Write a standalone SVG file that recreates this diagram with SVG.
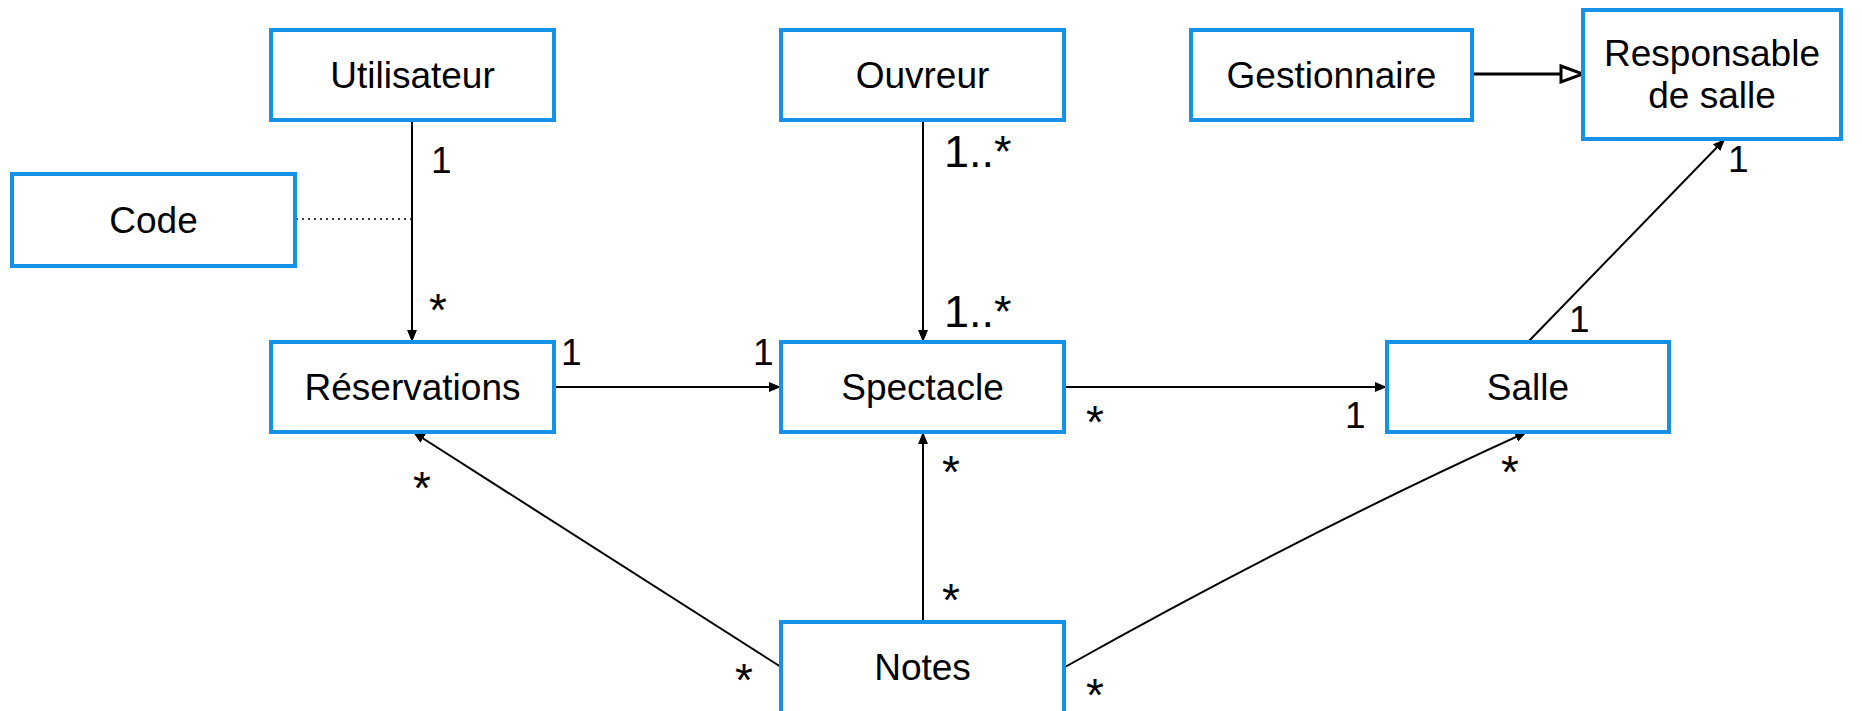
<svg xmlns="http://www.w3.org/2000/svg" width="1862" height="711" viewBox="0 0 1862 711">
<style>
.box{fill:#fff;stroke:#1592e8;stroke-width:4}
.t{font-family:"Liberation Sans",Arial,sans-serif;font-size:37px;fill:#000;text-anchor:middle}
.m{font-family:"Liberation Sans",Arial,sans-serif;font-size:37px;fill:#000}
.s{font-family:"Liberation Sans",Arial,sans-serif;font-size:46px;fill:#000}
.big{font-size:45px}
.c{fill:none;stroke:#000;stroke-width:2}
</style>
<defs>
<marker id="arr" viewBox="0 0 12 10" refX="12" refY="5" markerWidth="12" markerHeight="10" orient="auto" markerUnits="userSpaceOnUse">
<path d="M0,0 L12,5 L0,10 z" fill="#000"/>
</marker>
<marker id="gen" viewBox="0 0 26 20" refX="24" refY="10" markerWidth="26" markerHeight="20" orient="auto" markerUnits="userSpaceOnUse">
<path d="M2,2 L24,10 L2,18 z" fill="#fff" stroke="#000" stroke-width="3"/>
</marker>
</defs>
<rect width="1862" height="711" fill="#fff"/>
<g id="connectors">
<line class="c" x1="412" y1="120" x2="412" y2="342" marker-end="url(#arr)"/>
<line x1="296" y1="219" x2="412" y2="219" stroke="#000" stroke-width="1.5" stroke-dasharray="2,4"/>
<line class="c" x1="923" y1="120" x2="923" y2="342" marker-end="url(#arr)"/>
<line x1="1472" y1="74" x2="1583" y2="74" stroke="#000" stroke-width="3" marker-end="url(#gen)"/>
<line class="c" x1="555" y1="387" x2="781" y2="387" marker-end="url(#arr)"/>
<line class="c" x1="1065" y1="387" x2="1387" y2="387" marker-end="url(#arr)"/>
<line class="c" x1="1528" y1="342" x2="1725" y2="139" marker-end="url(#arr)"/>
<line class="c" x1="781" y1="667" x2="413" y2="432" marker-end="url(#arr)"/>
<line class="c" x1="923" y1="622" x2="923" y2="432" marker-end="url(#arr)"/>
<path class="c" d="M1065,667 Q1300,535 1527,432" marker-end="url(#arr)"/>
<text class="m" x="431" y="173">1</text>
<text class="s" x="429" y="326">*</text>
<text class="m big" x="944" y="167">1..*</text>
<text class="m big" x="944" y="327">1..*</text>
<text class="m" x="561" y="365">1</text>
<text class="m" x="753" y="365">1</text>
<text class="s" x="1086" y="438">*</text>
<text class="m" x="1345" y="428">1</text>
<text class="m" x="1569" y="332">1</text>
<text class="m" x="1728" y="172">1</text>
<text class="s" x="413" y="504">*</text>
<text class="s" x="735" y="696">*</text>
<text class="s" x="942" y="488">*</text>
<text class="s" x="942" y="616">*</text>
<text class="s" x="1501" y="488">*</text>
<text class="s" x="1086" y="711">*</text>
</g>
<g id="utilisateur"><rect class="box" x="271" y="30" width="283" height="90"/><text class="t" x="412.5" y="88">Utilisateur</text></g>
<g id="ouvreur"><rect class="box" x="781" y="30" width="283" height="90"/><text class="t" x="922.5" y="88">Ouvreur</text></g>
<g id="gestionnaire"><rect class="box" x="1191" y="30" width="281" height="90"/><text class="t" x="1331.5" y="88">Gestionnaire</text></g>
<g id="responsable"><rect class="box" x="1583" y="10" width="258" height="129"/><text class="t" x="1712" y="66">Responsable</text><text class="t" x="1712" y="108">de salle</text></g>
<g id="code"><rect class="box" x="12" y="174" width="283" height="92"/><text class="t" x="153.5" y="233">Code</text></g>
<g id="reservations"><rect class="box" x="271" y="342" width="283" height="90"/><text class="t" x="412.5" y="400">Réservations</text></g>
<g id="spectacle"><rect class="box" x="781" y="342" width="283" height="90"/><text class="t" x="922.5" y="400">Spectacle</text></g>
<g id="salle"><rect class="box" x="1387" y="342" width="282" height="90"/><text class="t" x="1528" y="400">Salle</text></g>
<g id="notes"><rect class="box" x="781" y="622" width="283" height="110"/><text class="t" x="922.5" y="680">Notes</text></g>
</svg>
